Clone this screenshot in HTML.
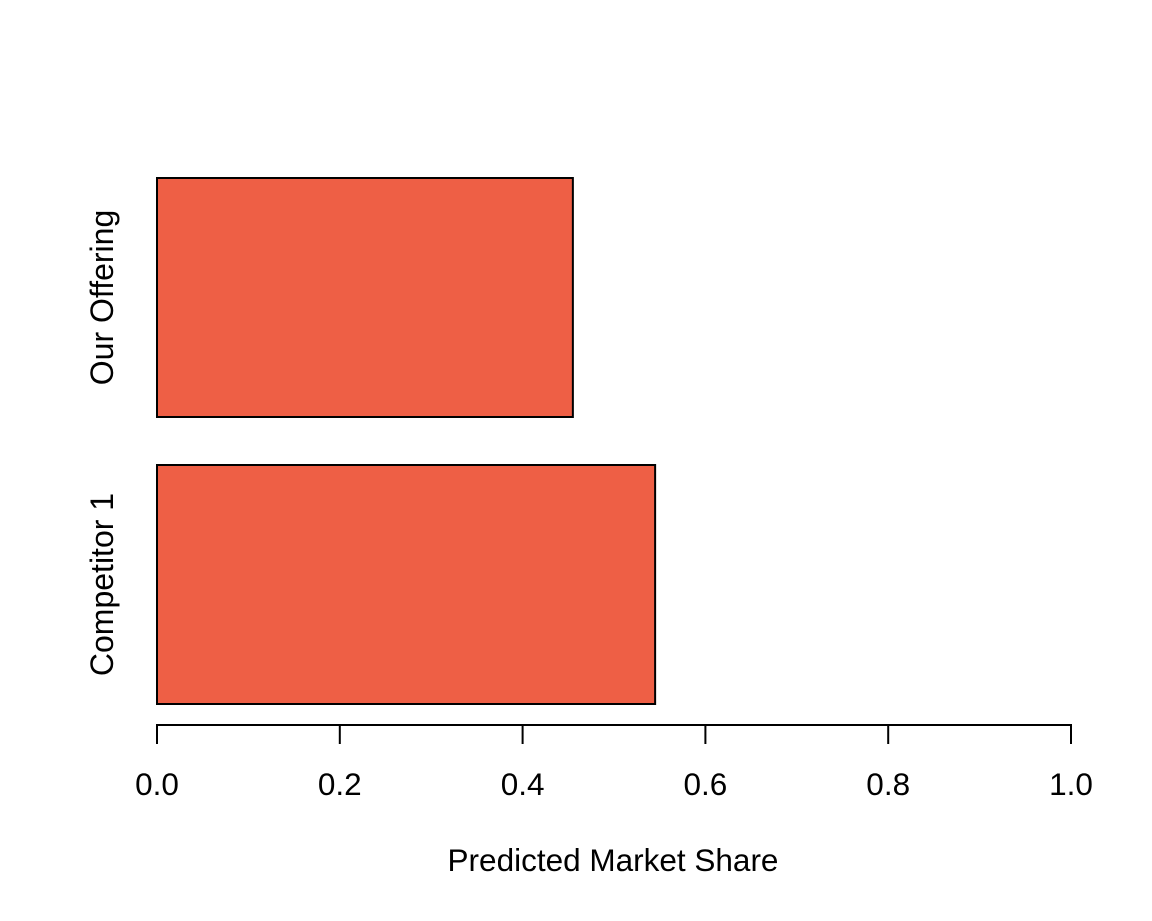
<!DOCTYPE html>
<html><head><meta charset="utf-8"><style>
html,body{margin:0;padding:0;background:#fff;}
svg{display:block;font-family:"Liberation Sans",Arial,sans-serif;}
</style></head><body>
<svg id="chart" width="1152" height="921" viewBox="0 0 1152 921">
<g id="bars"></g>
<g id="xaxis"></g>
<g id="ylabels"></g>
<text x="613" y="871" font-size="31.5" text-anchor="middle" fill="#000">Predicted Market Share</text>
</svg>
<script>
const categories = ["Competitor 1", "Our Offering"];
const shares = [0.545, 0.455];
const ticks = [0, 0.2, 0.4, 0.6, 0.8, 1.0];
const tickLabels = ["0.0", "0.2", "0.4", "0.6", "0.8", "1.0"];

const NS = "http://www.w3.org/2000/svg";
const x0 = 157, x1 = 1071;
const xs = v => x0 + v * (x1 - x0);
const bandBottom = 704, barH = 239, gap = 48;
const yTop = i => bandBottom - barH - i * (barH + gap);

const gb = document.getElementById('bars');
categories.forEach((c, i) => {
  const r = document.createElementNS(NS, 'rect');
  
  
  r.setAttribute('x', xs(0));
  r.setAttribute('y', yTop(i));
  r.setAttribute('width', xs(shares[i]) - xs(0));
  r.setAttribute('height', barH);
  r.setAttribute('fill', '#EE5F45');
  r.setAttribute('stroke', '#000');
  r.setAttribute('stroke-width', '2');
  gb.appendChild(r);
  const t = document.createElementNS(NS, 'text');
  
  
  const cy = yTop(i) + barH / 2;
  t.setAttribute('transform', 'translate(113,' + cy + ') rotate(-90)');
  t.setAttribute('text-anchor', 'middle');
  t.setAttribute('font-size', '32');
  t.textContent = c;
  document.getElementById('ylabels').appendChild(t);
});

const ga = document.getElementById('xaxis');
const line = document.createElementNS(NS, 'line');


line.setAttribute('x1', xs(ticks[0])); line.setAttribute('x2', xs(ticks[ticks.length - 1]));
line.setAttribute('y1', 725); line.setAttribute('y2', 725);
line.setAttribute('stroke', '#000'); line.setAttribute('stroke-width', '2');
ga.appendChild(line);
ticks.forEach((v, i) => {
  const tk = document.createElementNS(NS, 'line');
  
  
  tk.setAttribute('x1', xs(v)); tk.setAttribute('x2', xs(v));
  tk.setAttribute('y1', 724); tk.setAttribute('y2', 744);
  tk.setAttribute('stroke', '#000'); tk.setAttribute('stroke-width', '2');
  ga.appendChild(tk);
  const tl = document.createElementNS(NS, 'text');
  
  
  tl.setAttribute('x', xs(v)); tl.setAttribute('y', 795);
  tl.setAttribute('text-anchor', 'middle'); tl.setAttribute('font-size', '31.5');
  tl.textContent = tickLabels[i];
  ga.appendChild(tl);
});
</script>
</body></html>
